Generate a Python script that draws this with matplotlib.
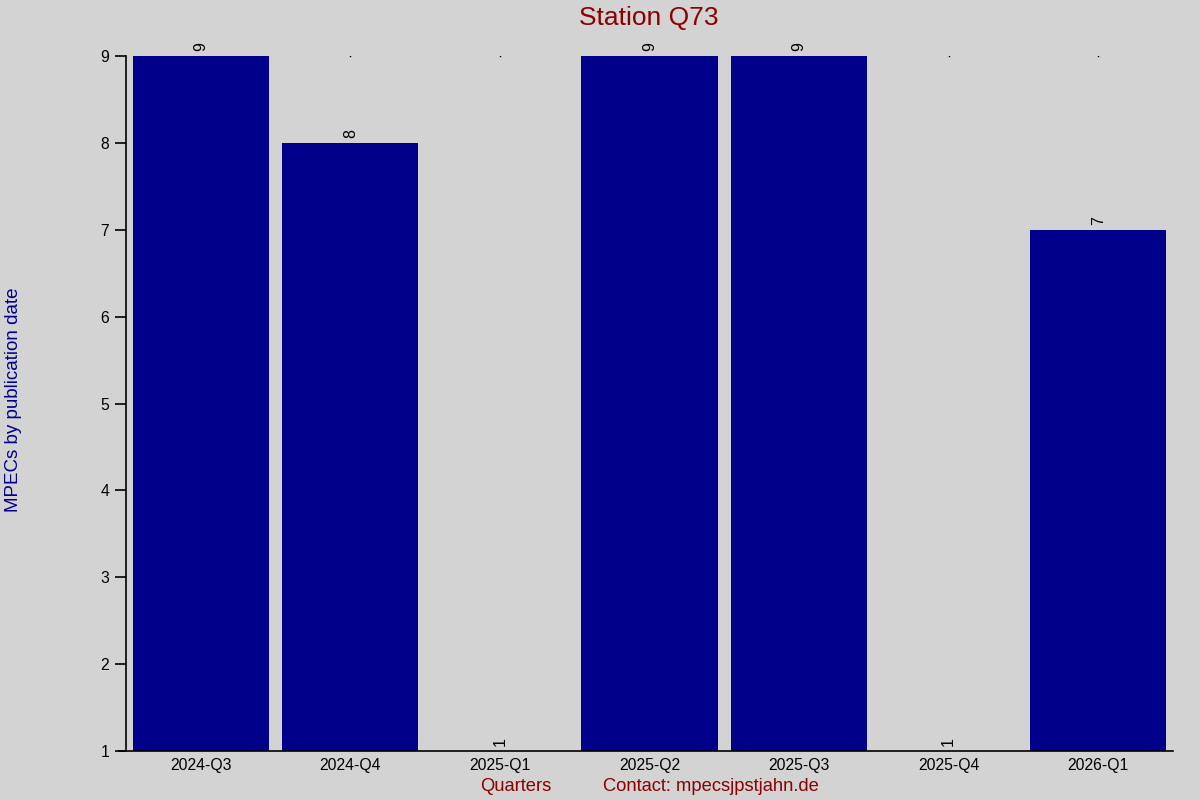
import matplotlib
matplotlib.use("Agg")
from matplotlib import pyplot as plt

# MPEC counts per quarter for station Q73
quarters = ["2024-Q3", "2024-Q4", "2025-Q1", "2025-Q2", "2025-Q3", "2025-Q4", "2026-Q1"]
counts = [9, 8, 1, 9, 9, 1, 7]

plt.rcParams['font.family'] = ['Liberation Sans', 'DejaVu Sans']

fig = plt.figure(figsize=(12, 8), dpi=100, facecolor="#d3d3d3")
ax = fig.add_axes([0.105, 0.06125, 0.8725, 0.86875])
ax.set_facecolor("#d3d3d3")

base = 1
x = range(len(quarters))
heights = [c - base for c in counts]
ax.bar(x, heights, bottom=base, width=0.91, color="#00008b")

top = max(counts)
for i, c in enumerate(counts):
    ax.text(i, c + 0.06, str(c), rotation=90, ha="center", va="bottom", fontsize=11.5, color="black")
    if c < top:
        # small marker at the max level, as in the original
        ax.plot(i, top, marker="s", markersize=1.0, color="black", markeredgewidth=0)

ax.set_xlim(-0.5, len(quarters) - 0.5)
ax.set_ylim(base, top)
ax.set_yticks(range(base, top + 1))
ax.set_xticks(list(x))
ax.set_xticklabels(quarters)
ax.tick_params(axis="x", length=0, labelsize=11.3, pad=5)
ax.tick_params(axis="y", length=8, width=1.2, labelsize=11.3, pad=4)
ax.spines["top"].set_visible(False)
ax.spines["right"].set_visible(False)
ax.spines["left"].set_linewidth(1.2)
ax.spines["bottom"].set_linewidth(1.2)
ax.spines["bottom"].set_bounds(-0.55, len(quarters) - 0.5)

fig.text(0.541, 0.978, "Station Q73", ha="center", va="center", fontsize=19, color="#8b0000")
fig.text(0.011, 0.5, "MPECs by publication date", rotation=90, ha="center", va="center",
         fontsize=13.5, color="#00008b")
fig.text(0.43, 0.017, "Quarters", ha="center", va="center", fontsize=13.2, color="#8b0000")
fig.text(0.5025, 0.017, "Contact: mpecsjpstjahn.de", ha="left", va="center", fontsize=13.2, color="#8b0000")

plt.savefig("out.png", dpi=100, facecolor=fig.get_facecolor())
